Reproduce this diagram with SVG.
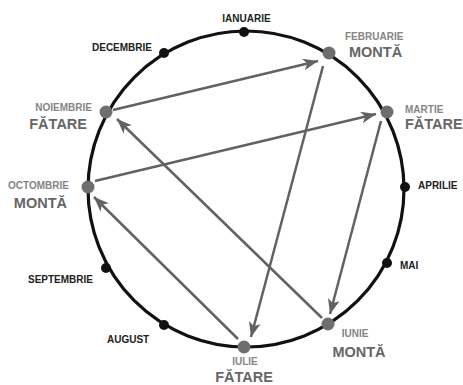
<svg xmlns="http://www.w3.org/2000/svg" width="463" height="385" viewBox="0 0 463 385">
<style>
.lbl{font-family:"Liberation Sans",Arial,sans-serif;font-weight:bold;font-size:10px;fill:#222}
.glbl{font-family:"Liberation Sans",Arial,sans-serif;font-weight:bold;font-size:10px;fill:#858585}
.big{font-family:"Liberation Sans",Arial,sans-serif;font-weight:bold;font-size:14.5px;fill:#666}
.arr{stroke:#626262;stroke-width:2.5;fill:none;marker-end:url(#ah)}
.bd{fill:#111}
.gd{fill:#6e6e6e}
</style>
<defs>
<marker id="ah" markerUnits="userSpaceOnUse" markerWidth="16" markerHeight="12" viewBox="0 0 16 12" refX="15" refY="6" orient="auto">
<path d="M0,0 L15,6 L0,12 L4,6 z" fill="#626262"/>
</marker>
</defs>
<circle cx="246" cy="189" r="158" fill="none" stroke="#111" stroke-width="3.2"/>
<g id="connectors">
<line class="arr" x1="113" y1="110" x2="318" y2="61"/>
<line class="arr" x1="95" y1="181" x2="376" y2="114"/>
<line class="arr" x1="323" y1="66" x2="251" y2="337"/>
<line class="arr" x1="381" y1="121" x2="330" y2="314"/>
<line class="arr" x1="322" y1="318" x2="117" y2="119"/>
<line class="arr" x1="238" y1="339" x2="94" y2="197"/>
</g>
<g id="ianuarie"><circle class="bd" cx="244" cy="32" r="5"/><text class="lbl" x="246.5" y="22" text-anchor="middle">IANUARIE</text></g>
<g id="februarie"><circle class="gd" cx="329" cy="53" r="6.5"/><text class="glbl" x="345" y="40">FEBRUARIE</text><text class="big" x="349" y="57">MONTĂ</text></g>
<g id="martie"><circle class="gd" cx="387" cy="112" r="6.5"/><text class="glbl" x="405" y="113">MARTIE</text><text class="big" x="405" y="129">FĂTARE</text></g>
<g id="aprilie"><circle class="bd" cx="405" cy="187" r="5"/><text class="lbl" x="418" y="189">APRILIE</text></g>
<g id="mai"><circle class="bd" cx="387" cy="263" r="5"/><text class="lbl" x="400" y="269">MAI</text></g>
<g id="iunie"><circle class="gd" cx="328" cy="324" r="6.5"/><text class="glbl" x="355" y="337" text-anchor="middle">IUNIE</text><text class="big" x="359" y="357" text-anchor="middle">MONTĂ</text></g>
<g id="iulie"><circle class="gd" cx="244" cy="347" r="6.5"/><text class="glbl" x="245" y="365" text-anchor="middle">IULIE</text><text class="big" x="244" y="382" text-anchor="middle">FĂTARE</text></g>
<g id="august"><circle class="bd" cx="164" cy="325" r="5"/><text class="lbl" x="107" y="343">AUGUST</text></g>
<g id="septembrie"><circle class="bd" cx="106" cy="268" r="5"/><text class="lbl" x="93" y="283" text-anchor="end">SEPTEMBRIE</text></g>
<g id="octombrie"><circle class="gd" cx="88" cy="187" r="6.5"/><text class="glbl" x="69" y="189" text-anchor="end">OCTOMBRIE</text><text class="big" x="67" y="208" text-anchor="end">MONTĂ</text></g>
<g id="noiembrie"><circle class="gd" cx="106" cy="112" r="6.5"/><text class="glbl" x="92" y="111" text-anchor="end">NOIEMBRIE</text><text class="big" x="87" y="129" text-anchor="end">FĂTARE</text></g>
<g id="decembrie"><circle class="bd" cx="164" cy="53" r="5"/><text class="lbl" x="152" y="51" text-anchor="end">DECEMBRIE</text></g>
</svg>
